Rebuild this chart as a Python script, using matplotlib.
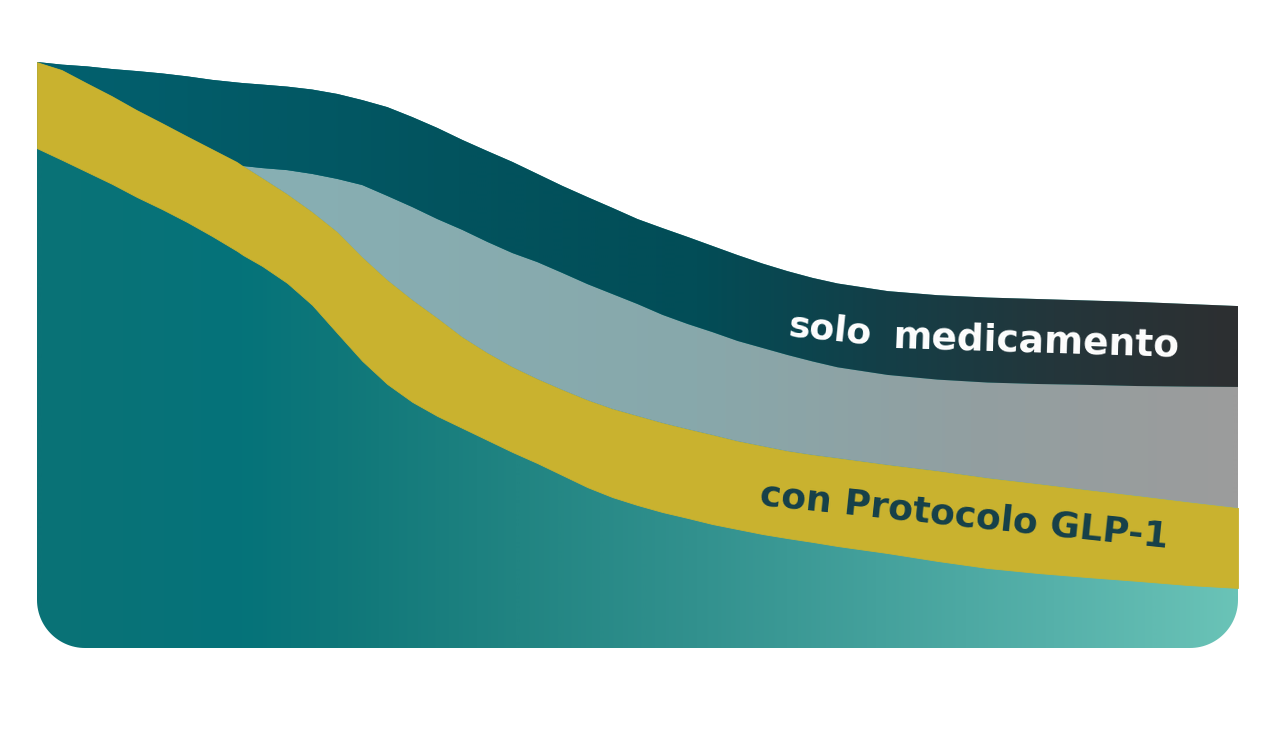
import numpy as np
import matplotlib
matplotlib.use("Agg")
import matplotlib.pyplot as plt
from matplotlib.colors import LinearSegmentedColormap
from matplotlib.path import Path

# semanas de tratamiento (eje horizontal)
WEEKS = [0, 0.5, 1, 1.5, 2, 2.5, 3, 3.5, 4, 4.12, 4.5, 5, 5.5, 6, 6.5, 7,
         7.5, 8, 8.5, 9, 9.5, 10, 10.5, 11, 11.5, 12, 12.5, 13, 13.5, 14,
         14.5, 15, 15.5, 16, 17, 18, 19, 20, 21, 22, 23, 24]

# borde superior de cada franja, % de pérdida de peso (0 arriba)
TOP_SOLO = [0.00, 0.09, 0.15, 0.24, 0.31, 0.39, 0.49, 0.61, 0.70, 0.72,
            0.77, 0.84, 0.94, 1.09, 1.30, 1.54, 1.88, 2.25, 2.66, 3.04,
            3.41, 3.82, 4.23, 4.61, 4.98, 5.36, 5.67, 5.97, 6.28, 6.59,
            6.88, 7.14, 7.37, 7.56, 7.82, 7.96, 8.04, 8.09, 8.14, 8.19,
            8.26, 8.33]
TOP_GRIS = [0.00, 0.27, 0.72, 1.16, 1.64, 2.08, 2.53, 2.97, 3.41, 3.55,
            3.62, 3.69, 3.82, 3.99, 4.20, 4.57, 4.95, 5.36, 5.73, 6.14,
            6.52, 6.83, 7.20, 7.58, 7.92, 8.26, 8.63, 8.94, 9.22, 9.52,
            9.76, 10.00, 10.22, 10.42, 10.68, 10.84, 10.94, 10.99, 11.02,
            11.06, 11.08, 11.09]
TOP_PROTOCOLO = [0.00, 0.27, 0.72, 1.16, 1.64, 2.08, 2.53, 2.97, 3.41, 3.55,
                 3.96, 4.51, 5.12, 5.80, 6.66, 7.44, 8.12, 8.74, 9.39, 9.93,
                 10.41, 10.82, 11.19, 11.54, 11.84, 12.08, 12.32, 12.53,
                 12.73, 12.94, 13.11, 13.28, 13.41, 13.52, 13.75, 13.96,
                 14.20, 14.40, 14.61, 14.81, 15.02, 15.22]
TOP_BASE = [2.94, 3.34, 3.75, 4.16, 4.61, 5.02, 5.46, 5.94, 6.45, 6.59,
            6.96, 7.54, 8.29, 9.25, 10.20, 10.99, 11.60, 12.08, 12.49,
            12.90, 13.31, 13.69, 14.10, 14.51, 14.85, 15.12, 15.36, 15.56,
            15.77, 15.94, 16.11, 16.25, 16.38, 16.52, 16.76, 17.03, 17.27,
            17.44, 17.58, 17.71, 17.85, 17.95]
FLOOR = 20

LABEL_SOLO = ("solo", "medicamento")
LABEL_PROTOCOLO = "con Protocolo GLP-1"

# colores (degradados horizontales)
SOLO_STOPS = [(0.0, "#03616f"), (0.35, "#02535e"), (0.55, "#024d57"),
              (0.7, "#133f48"), (0.85, "#24363b"), (1.0, "#2d2f31")]
GRIS_STOPS = [(0.0, "#88b3b7"), (0.3, "#87adb1"), (0.55, "#88a8ab"),
              (0.78, "#929fa1"), (1.0, "#9c9c9c")]
BASE_STOPS = [(0.0, "#0a7276"), (0.17, "#05737a"), (0.25, "#0f7779"),
              (0.4, "#218482"), (0.55, "#32918e"), (0.7, "#44a19c"),
              (0.85, "#56b1aa"), (1.0, "#6ac3b7")]
YELLOW = "#c9b22f"
TEXT_DARK = "#15404a"

W, H = 1279, 735
fig = plt.figure(figsize=(W / 100, H / 100), dpi=100)
fig.patch.set_facecolor("white")
ax = fig.add_axes([37 / W, (H - 648) / H, 1201 / W, 586 / H])
ax.set_axis_off()

x0, x1 = WEEKS[0], WEEKS[-1]
extent = (x0, x1, FLOOR, 0)
ramp = np.linspace(0, 1, 600)[None, :]


def gradient(stops, clip_path, z):
    cmap = LinearSegmentedColormap.from_list("g", stops)
    im = ax.imshow(ramp, cmap=cmap, aspect="auto", extent=extent,
                   interpolation="bilinear", zorder=z)
    im.set_clip_path(clip_path, transform=ax.transData)
    return im


# card outline: top follows the upper band, bottom corners rounded
rx, ry = 0.96, 1.64
t = np.linspace(0, np.pi / 2, 30)
verts = list(zip(WEEKS, TOP_SOLO))
verts += [(x1, FLOOR - ry)]
verts += list(zip(x1 - rx + rx * np.cos(t), FLOOR - ry + ry * np.sin(t)))
verts += list(zip(x0 + rx - rx * np.sin(t), FLOOR - ry + ry * np.cos(t)))
verts += [(x0, TOP_SOLO[0])]
card = Path(verts, closed=True)

gradient(BASE_STOPS, card, 1)

ax.fill_between(WEEKS, TOP_BASE, TOP_PROTOCOLO, facecolor=YELLOW,
                edgecolor=YELLOW, linewidth=0.6, zorder=2)

gris = ax.fill_between(WEEKS, TOP_PROTOCOLO, TOP_GRIS, facecolor="none",
                       edgecolor="none")
gradient(GRIS_STOPS, gris.get_paths()[0], 3)

solo = ax.fill_between(WEEKS, TOP_GRIS, TOP_SOLO, facecolor="none",
                       edgecolor="none")
gradient(SOLO_STOPS, solo.get_paths()[0], 4)

font = dict(family="DejaVu Sans", fontweight="bold", ha="center",
            va="center", rotation_mode="anchor", zorder=6)
ax.text(15.85, 9.15, LABEL_SOLO[0], color="white", fontsize=26,
        rotation=-6, **font)
ax.text(19.98, 9.55, LABEL_SOLO[1], color="white", fontsize=27,
        rotation=-1.8, **font)
ax.text(18.52, 15.5, LABEL_PROTOCOLO, color=TEXT_DARK, fontsize=26,
        rotation=-6, **font)

ax.set_xlim(x0, x1)
ax.set_ylim(FLOOR, 0)

fig.savefig("out.png", dpi=100, facecolor="white")
